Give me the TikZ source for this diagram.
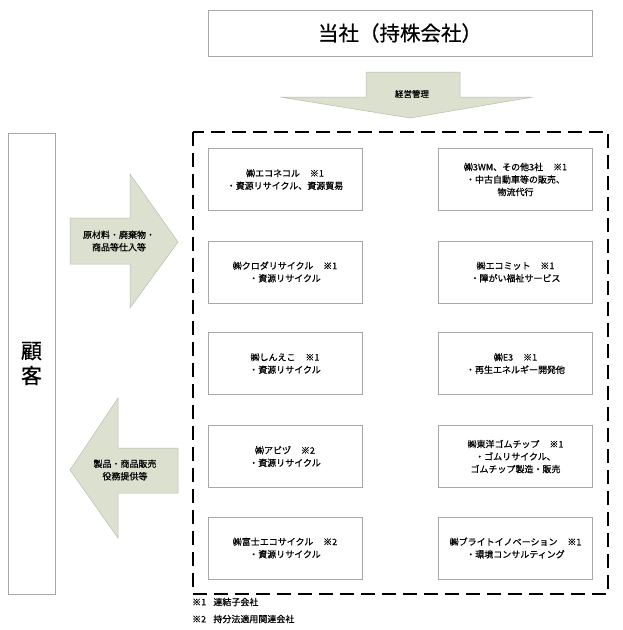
\documentclass[tikz,border=0pt]{standalone}
\usepackage{fontspec}
\setmainfont{Noto Sans CJK JP}[FakeBold=0.6]
\definecolor{arrowfill}{HTML}{DCE0CE}
\definecolor{arrowline}{HTML}{B8BCAC}
\definecolor{boxline}{HTML}{A8A8A8}
\newcommand{\gapnote}{\hspace{1.1em}}
\begin{document}
\begin{tikzpicture}[x=1pt,y=-1pt,
  every node/.style={inner sep=0pt, align=center, text=black},
  cobox/.style={draw=boxline, line width=0.8pt, fill=white, minimum width=154pt, minimum height=62pt, font=\fontsize{9}{12.5}\selectfont},
  blockarrow/.style={fill=arrowfill, draw=arrowline, line width=0.5pt},
  arrowtext/.style={font=\fontsize{9}{12.5}\selectfont}]
\useasboundingbox (0,0) rectangle (623,630);
% top box
\node[draw=boxline, line width=0.8pt, minimum width=384pt, minimum height=46pt, font=\fontsize{20.5}{24}\selectfont] (top) at (400,33) {当社（持株会社）};
% down arrow
\draw[blockarrow] (366,72) -- (460,72) -- (460,97) -- (533,97) -- (410,118) -- (280,97) -- (366,97) -- cycle;
\node[font=\fontsize{8.5}{10}\selectfont] (mgmt) at (412,94) {経営管理};
% customer box
\node[draw=boxline, line width=0.8pt, minimum width=47pt, minimum height=461pt, font=\fontsize{21}{25}\selectfont] (cust) at (31.5,363.5) {顧\\客};
% right arrow
\draw[blockarrow] (70,218) -- (130,218) -- (130,174) -- (178,242) -- (130,308) -- (130,264) -- (70,264) -- cycle;
\node[arrowtext] (inarrow) at (119,241) {原材料・廃棄物・\\商品等仕入等};
% left arrow
\draw[blockarrow] (178,448) -- (118,448) -- (118,398) -- (70,470) -- (118,538) -- (118,493) -- (178,493) -- cycle;
\node[arrowtext] (outarrow) at (125,470) {製品・商品販売\\役務提供等};
% dashed group
\draw[line width=2pt, dash pattern=on 14pt off 7pt] (193,132) rectangle (608,594);
% companies
\node[cobox] (c1) at (285,179.5) {㈱エコネコル\gapnote※1\\・資源リサイクル、資源貿易};
\node[cobox] (c2) at (515.5,179.5) {㈱3WM、その他3社\gapnote※1\\・中古自動車等の販売、\\物流代行};
\node[cobox] (c3) at (285,272) {㈱クロダリサイクル\gapnote※1\\・資源リサイクル};
\node[cobox] (c4) at (515.5,272) {㈱エコミット\gapnote※1\\・障がい福祉サービス};
\node[cobox] (c5) at (285,363.5) {㈱しんえこ\gapnote※1\\・資源リサイクル};
\node[cobox] (c6) at (515.5,363.5) {㈱E3\gapnote※1\\・再生エネルギー開発他};
\node[cobox] (c7) at (285,456.5) {㈱アビヅ\gapnote※2\\・資源リサイクル};
\node[cobox] (c8) at (515.5,456.5) {㈱東洋ゴムチップ\gapnote※1\\・ゴムリサイクル、\\ゴムチップ製造・販売};
\node[cobox] (c9) at (285,548) {㈱富士エコサイクル\gapnote※2\\・資源リサイクル};
\node[cobox] (c10) at (515.5,548) {㈱ブライトイノベーション\gapnote※1\\・環境コンサルティング};
% footnotes
\node[anchor=west, font=\fontsize{9}{11}\selectfont] (n1) at (192,602) {※1\hspace{0.8em}連結子会社};
\node[anchor=west, font=\fontsize{9}{11}\selectfont] (n2) at (192,619) {※2\hspace{0.8em}持分法適用関連会社};
\end{tikzpicture}
\end{document}
